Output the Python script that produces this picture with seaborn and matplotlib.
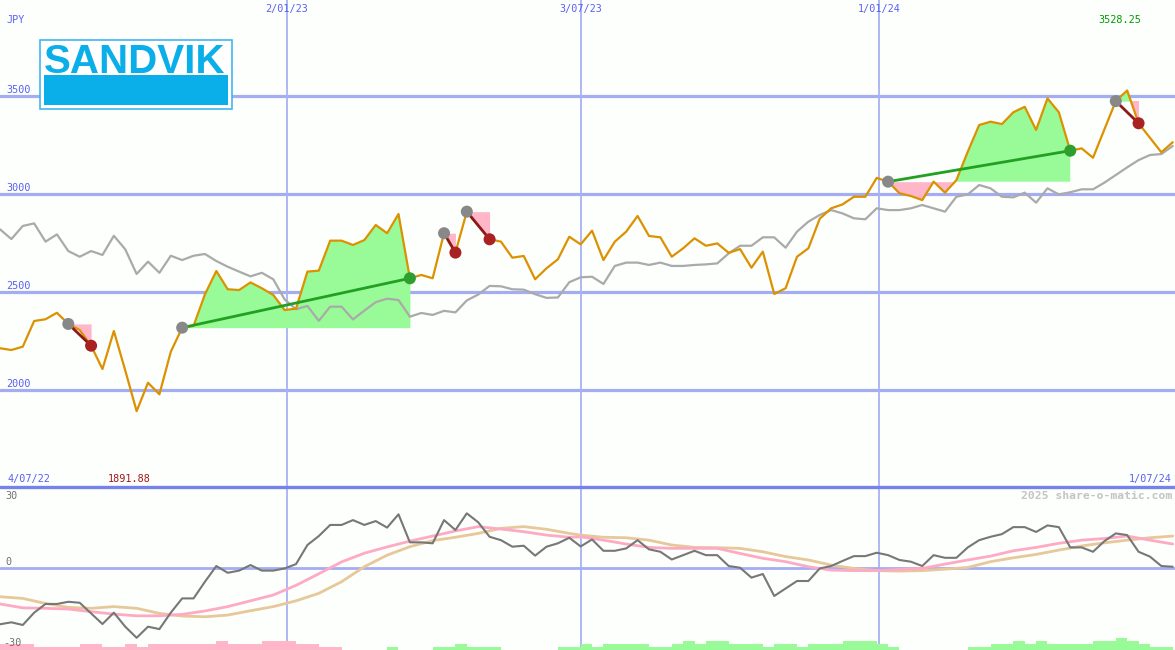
import numpy as np
import matplotlib
matplotlib.use("Agg")
import matplotlib.pyplot as plt
import seaborn as sns
from matplotlib.patches import Rectangle
from matplotlib.lines import Line2D

# weekly closes in JPY, 4/07/22 .. 1/07/24 (week index 0..103)
price = [2213, 2204, 2221, 2352, 2361, 2394, 2337, 2306, 2226, 2107,
         2301, 2100, 1891.88, 2037, 1978, 2195, 2318, 2327, 2488, 2607,
         2514, 2510, 2549, 2519, 2485, 2408, 2415, 2604, 2609, 2762,
         2762, 2740, 2765, 2842, 2800, 2898, 2570, 2587, 2570, 2800,
         2701, 2910, 2840, 2769, 2757, 2675, 2684, 2565, 2621, 2667,
         2782, 2743, 2813, 2663, 2757, 2808, 2888, 2786, 2779, 2680,
         2723, 2774, 2736, 2748, 2700, 2719, 2624, 2706, 2490, 2519,
         2680, 2723, 2874, 2927, 2947, 2986, 2986, 3082, 3063, 3004,
         2990, 2969, 3063, 3007, 3071, 3216, 3352, 3369, 3357, 3417,
         3445, 3327, 3488, 3417, 3221, 3233, 3185, 3330, 3474, 3528.25,
         3361, 3287, 3213, 3264]

# comparison index (grey line), rescaled to JPY
index_line = [2820, 2770, 2837, 2850, 2757, 2794, 2709, 2680, 2709, 2689,
              2787, 2718, 2592, 2655, 2598, 2685, 2663, 2685, 2694, 2658,
              2629, 2604, 2580, 2598, 2565, 2462, 2412, 2429, 2353, 2425,
              2425, 2360, 2405, 2448, 2466, 2459, 2374, 2393, 2383, 2404,
              2396, 2457, 2487, 2531, 2529, 2514, 2512, 2489, 2470, 2472,
              2550, 2575, 2578, 2541, 2633, 2650, 2650, 2638, 2650, 2633,
              2633, 2638, 2641, 2646, 2697, 2736, 2736, 2779, 2779, 2726,
              2808, 2859, 2893, 2918, 2901, 2876, 2871, 2927, 2918, 2918,
              2927, 2944, 2927, 2910, 2986, 2998, 3046, 3029, 2986, 2983,
              3007, 2956, 3029, 2998, 3009, 3024, 3024, 3058, 3097, 3136,
              3173, 3199, 3204, 3245]

# lower panel oscillator
momentum = [-23.4, -22.6, -23.7, -18.6, -15.0, -15.0, -14.1, -14.5, -18.9, -23.3,
            -18.6, -24.4, -29.0, -24.4, -25.4, -18.6, -12.7, -12.7, -5.8, 0.7,
            -2.1, -1.2, 1.1, -1.2, -1.2, -0.3, 1.5, 9.4, 13.1, 17.7,
            17.7, 19.7, 17.7, 19.3, 16.6, 22.1, 10.5, 10.5, 10.1, 19.7,
            15.6, 22.5, 18.8, 12.8, 11.4, 8.7, 9.1, 5.0, 8.7, 10.1,
            12.4, 8.8, 11.7, 7.0, 7.0, 8.0, 11.4, 7.6, 6.6, 3.4,
            5.2, 7.0, 5.2, 5.2, 0.7, 0.0, -4.1, -2.6, -11.7, -8.6,
            -5.5, -5.5, -0.3, 0.7, 2.8, 4.8, 4.8, 6.2, 5.2, 3.2,
            2.5, 0.7, 5.2, 4.1, 4.1, 8.4, 11.4, 12.8, 13.9, 16.8,
            16.8, 14.8, 17.5, 16.8, 8.4, 8.4, 6.6, 11.0, 14.2, 13.5,
            6.6, 4.6, 0.7, 0.4]

# the two smooth averages, read every other week
ma_weeks = [0, 2, 4, 6, 8, 10, 12, 14, 16, 18, 20, 22, 24, 26, 28, 30, 32, 34,
            36, 38, 40, 42, 44, 46, 48, 50, 51, 53, 55, 57, 59, 61, 63, 65, 67,
            69, 71, 73, 75, 77, 79, 81, 83, 85, 87, 89, 91, 93, 95, 97, 99, 101, 103]
ma_fast = [-15.0, -16.6, -16.8, -17.1, -18.2, -19.2, -19.9, -19.9, -19.3, -17.9,
           -16.1, -13.7, -11.3, -7.3, -2.5, 2.4, 6.0, 8.6, 11.0, 13.1,
           15.2, 17.0, 16.0, 14.9, 13.5, 12.6, 12.8, 11.4, 9.8, 8.4,
           8.0, 8.0, 8.0, 5.9, 3.9, 2.5, 0.4, -1.0, -1.2, -1.2,
           -0.7, -0.3, 1.5, 3.2, 4.8, 7.0, 8.4, 10.1, 11.4, 12.1,
           13.1, 11.4, 9.8]
ma_slow = [-12.0, -12.7, -14.8, -16.4, -16.8, -16.1, -16.8, -18.9, -20.0, -20.3,
           -19.6, -17.8, -16.1, -13.7, -10.6, -5.8, 0.4, 5.2, 8.7, 11.2,
           12.6, 14.2, 16.3, 17.0, 15.9, 14.2, 13.5, 12.6, 12.4, 11.4,
           9.4, 8.4, 8.3, 8.0, 6.6, 4.6, 3.2, 1.1, -0.3, -1.2,
           -1.4, -1.2, -0.6, 0.1, 2.5, 4.1, 5.5, 7.3, 9.0, 10.3,
           11.4, 12.4, 13.1]

# histogram strip at the bottom (negative = pink, positive = green)
bar_strength = [-2.5, -2.5, -2.5, -1.1, -1.1, -1.1, -1.1, -2.5, -2.5, -1.1,
                -1.1, -2.5, -1.1, -2.5, -2.5, -2.5, -2.5, -2.5, -2.5, -3.7,
                -2.5, -2.5, -2.5, -3.7, -3.7, -3.7, -2.5, -2.5, -1.1, -1.1,
                0, 0, 0, 0, 1.1, 0, 0, 0, 1.1, 1.1,
                2.5, 1.1, 1.1, 1.1, 0, 0, 0, 0, 0, 1.1,
                1.1, 2.5, 1.1, 2.5, 2.5, 2.5, 2.5, 1.1, 1.1, 2.5,
                3.7, 2.5, 3.7, 3.7, 2.5, 2.5, 2.5, 1.1, 2.5, 2.5,
                1.1, 2.5, 2.5, 2.5, 3.7, 3.7, 3.7, 2.5, 1.1, 0,
                0, 0, 0, 0, 0, 1.1, 1.1, 2.5, 2.5, 3.7,
                2.5, 3.7, 2.5, 2.5, 2.5, 2.5, 3.7, 3.7, 4.8, 3.7,
                2.5, 1.1, 1.1, 0]

# trade signals: (start week, end week, kind)
signals = [(6, 8, "sell"), (16, 36, "buy"), (39, 40, "sell"),
           (41, 43, "sell"), (78, 94, "buy"), (98, 100, "sell")]

grid_weeks = [25.2, 51.0, 77.2]
grid_labels = ["2/01/23", "3/07/23", "1/01/24"]
price_ticks = [2000, 2500, 3000, 3500]

BG = "#fcfffc"
GRID_H = "#a4adf2"
GRID_V = "#aab2f4"
SEP = "#7482ea"
BLUE_TXT = "#5a5ff0"
ORANGE = "#dc9100"
LOGO_BLUE = "#0aaee8"

sns.set_style("white")
W, H = 1175, 650
fig = plt.figure(figsize=(11.75, 6.5), dpi=100)
fig.patch.set_facecolor(BG)

ax = fig.add_axes([0, 163 / H, 1, 487 / H])
ax2 = fig.add_axes([0, 0, 1, 163 / H])
for a in (ax, ax2):
    a.set_axis_off()
    a.set_xlim(0, 103.2)
ax.set_ylim(1505, 3990)
ax2.set_ylim(-34.05, 33.4)

weeks = np.arange(len(price))
p = np.array(price)

# grid
for t in price_ticks:
    ax.axhline(t, color=GRID_H, lw=2.3, zorder=1)
for g in grid_weeks:
    ax.axvline(g, color=GRID_V, lw=1.3, zorder=1)
    ax2.axvline(g, color=GRID_V, lw=1.3, zorder=1)
ax2.axhline(0, color=GRID_H, lw=2, zorder=1)
fig.add_artist(Line2D([0, 1], [163 / H, 163 / H], transform=fig.transFigure,
                      color=SEP, lw=2.4, zorder=3))

# price + index
sns.lineplot(x=weeks, y=index_line, ax=ax, color="#aaaaaa", lw=1.6, zorder=3)
sns.lineplot(x=weeks, y=price, ax=ax, color=ORANGE, lw=1.6, zorder=5)

# signals
for s, e, kind in signals:
    xs = weeks[s:e + 1]
    ys = p[s:e + 1]
    lvl = p[s]
    ax.fill_between(xs, lvl, ys, where=ys >= lvl, interpolate=True,
                    color="#98fb98", lw=0, zorder=2)
    ax.fill_between(xs, lvl, ys, where=ys <= lvl, interpolate=True,
                    color="#ffb6c8", lw=0, zorder=2)
    lc = "#22a022" if kind == "buy" else "#8b1a1a"
    dc = "#2e9e2e" if kind == "buy" else "#a82222"
    sns.lineplot(x=[s, e], y=[price[s], price[e]], ax=ax, color=lc, lw=2, zorder=6)
    sns.scatterplot(x=[s], y=[price[s]], ax=ax, color="#888888", s=75,
                    edgecolor="none", zorder=7)
    sns.scatterplot(x=[e], y=[price[e]], ax=ax, color=dc, s=75,
                    edgecolor="none", zorder=7)

# lower panel
bars = np.array(bar_strength)
ax2.bar(weeks, np.abs(bars), bottom=-34.05, width=1, align="edge",
        color=["#ffb6c8" if b < 0 else "#98fb98" for b in bars], lw=0, zorder=2)
sns.lineplot(x=ma_weeks, y=ma_slow, ax=ax2, color="#e6c89a", lw=2, zorder=3)
sns.lineplot(x=ma_weeks, y=ma_fast, ax=ax2, color="#ffaac4", lw=2, zorder=4)
sns.lineplot(x=weeks, y=momentum, ax=ax2, color="#777777", lw=1.5, zorder=5)

# texts
mono = "DejaVu Sans Mono"


def label(x, y, s, color=BLUE_TXT, ha="left", size=7.3, weight="normal"):
    fig.text(x / W, 1 - y / H, s, ha=ha, va="center", color=color,
             fontsize=size, family=mono, fontweight=weight, zorder=12)


label(6, 20, "JPY")
for t in price_ticks:
    ypix = 96 + (3500 - t) / 500 * 98
    label(6, ypix - 6, str(t))
for g, lab in zip(grid_weeks, grid_labels):
    label(g / 103.2 * W, 9, lab, ha="center")
label(1141, 20, f"{max(price):.2f}", color="#009a00", ha="right")
label(7, 479, "4/07/22")
label(108, 479, f"{min(price):.2f}", color="#a01818")
label(1172, 479, "1/07/24", ha="right")
label(1172, 496, "2025 share-o-matic.com", color="#c4c4c4", ha="right",
      size=8.2, weight="bold")
label(5, 496, "30", color="#707070")
label(5, 562, "0", color="#707070")
label(3, 643, "-30", color="#707070")

# logo
fig.add_artist(Rectangle((39.5 / W, 1 - 108.5 / H), 192 / W, 69 / H,
                         transform=fig.transFigure, facecolor="white",
                         edgecolor="#40b6ee", lw=1.2, zorder=10))
fig.add_artist(Rectangle((43.5 / W, 1 - 104.5 / H), 184 / W, 29.5 / H,
                         transform=fig.transFigure, facecolor=LOGO_BLUE,
                         edgecolor="none", zorder=11))
fig.text(134.5 / W, 1 - 72.7 / H, "SANDVIK", ha="center", va="baseline",
         color=LOGO_BLUE, fontsize=29, fontweight="bold",
         family="Liberation Sans", zorder=12)

fig.savefig("out.png", dpi=100, facecolor=BG)
